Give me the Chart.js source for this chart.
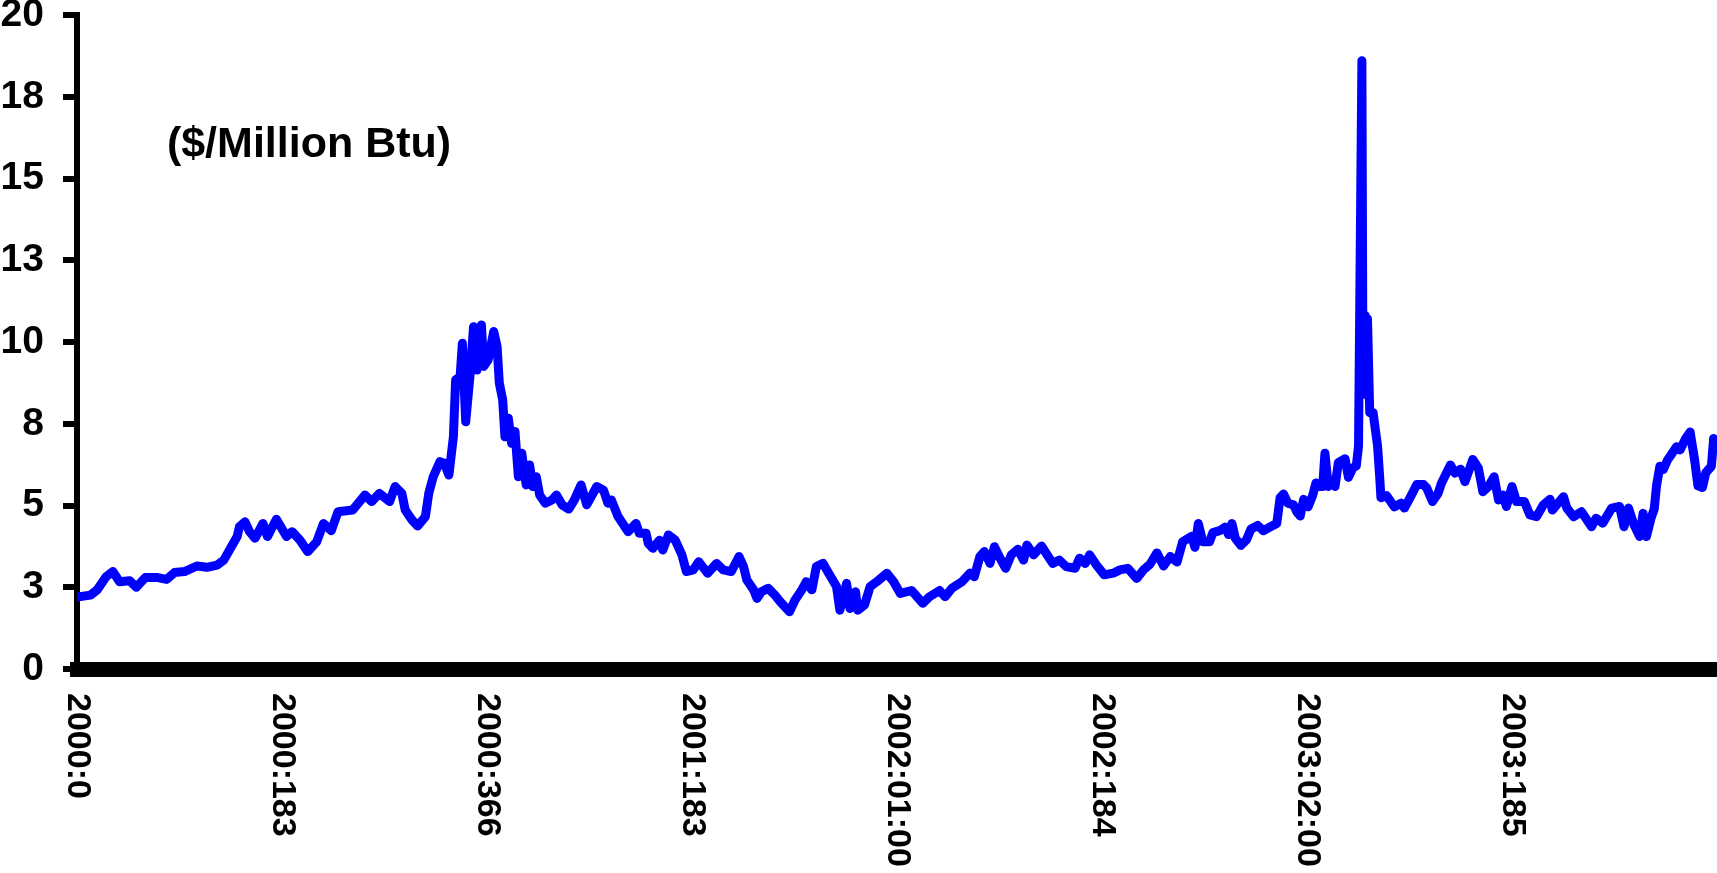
<!DOCTYPE html>
<html>
<head>
<meta charset="utf-8">
<script src="https://cdn.jsdelivr.net/npm/chart.js@4/dist/chart.umd.min.js"></script>
<style>
    html, body { margin: 0; padding: 0; background: #fff; }
    #wrap { width: 1717px; height: 873px; }
</style>
</head>
<body>
<div id="wrap"><canvas id="precioChart" width="1717" height="873"></canvas></div>
<script>
// Día (índice desde 2000:0) y precio diario ($/Million Btu)
const days = [
    0, 12, 18, 26, 32, 38, 47, 53, 61, 71, 80, 87, 96, 107, 116, 125, 131, 137, 143, 145,
    150, 154, 159, 166, 170, 178, 187, 192, 199, 206, 214, 220, 227, 233, 246, 257, 263, 270, 279, 284,
    290, 293, 299, 304, 311, 314, 318, 324, 328, 332, 336, 338, 342, 344, 347, 351, 354, 357, 361, 363,
    367, 372, 375, 377, 380, 382, 385, 388, 391, 394, 397, 401, 404, 407, 410, 413, 418, 424, 428, 433,
    439, 444, 450, 455, 464, 470, 474, 477, 483, 492, 499, 502, 508, 510, 514, 520, 523, 528, 534, 540,
    544, 550, 555, 563, 571, 577, 584, 591, 595, 598, 604, 607, 611, 617, 623, 629, 636, 641, 647, 651,
    656, 660, 666, 671, 678, 681, 687, 690, 695, 697, 703, 708, 714, 723, 729, 735, 745, 755, 761, 770,
    775, 781, 790, 797, 801, 806, 810, 815, 819, 824, 829, 834, 840, 845, 848, 854, 861, 867, 871, 877,
    883, 891, 895, 900, 904, 910, 917, 925, 931, 938, 946, 952, 958, 964, 970, 976, 982, 987, 995, 998,
    1001, 1005, 1011, 1014, 1020, 1025, 1028, 1031, 1034, 1039, 1044, 1048, 1054, 1059, 1065, 1071, 1074, 1077, 1081, 1086,
    1089, 1092, 1095, 1099, 1103, 1106, 1109, 1112, 1114, 1117, 1120, 1123, 1126, 1132, 1135, 1139, 1142, 1144, 1147, 1148,
    1150, 1151, 1152, 1154, 1157, 1161, 1163, 1164, 1169, 1176, 1182, 1185, 1190, 1196, 1202, 1205, 1210, 1215, 1218, 1226,
    1230, 1235, 1239, 1246, 1251, 1255, 1260, 1265, 1269, 1273, 1276, 1281, 1285, 1292, 1297, 1303, 1309, 1315, 1317, 1327,
    1330, 1336, 1343, 1352, 1356, 1362, 1370, 1377, 1381, 1385, 1390, 1395, 1398, 1401, 1405, 1408, 1410, 1413, 1416, 1420,
    1424, 1428, 1431, 1436, 1440, 1444, 1447, 1451, 1454, 1459, 1461
];
const prices = [
    2.20, 2.26, 2.42, 2.82, 2.98, 2.67, 2.70, 2.50, 2.80, 2.80, 2.74, 2.95, 2.98, 3.15, 3.11, 3.18, 3.33, 3.69, 4.05, 4.35,
    4.50, 4.20, 4.00, 4.45, 4.05, 4.58, 4.05, 4.20, 3.94, 3.59, 3.89, 4.45, 4.23, 4.81, 4.86, 5.32, 5.12, 5.37, 5.12, 5.58,
    5.37, 4.86, 4.56, 4.37, 4.66, 5.37, 5.88, 6.34, 6.29, 5.93, 7.10, 8.84, 8.94, 9.96, 7.56, 9.04, 10.47, 9.14, 10.52, 9.25,
    9.45, 10.32, 9.86, 8.74, 8.23, 7.10, 7.67, 6.90, 7.26, 5.88, 6.60, 5.63, 6.24, 5.58, 5.88, 5.32, 5.07, 5.17, 5.32, 5.02,
    4.89, 5.17, 5.63, 5.02, 5.58, 5.47, 5.07, 5.17, 4.66, 4.20, 4.45, 4.15, 4.15, 3.84, 3.69, 3.94, 3.64, 4.10, 3.94, 3.49,
    2.98, 3.03, 3.28, 2.93, 3.23, 3.03, 2.98, 3.44, 3.13, 2.72, 2.42, 2.16, 2.36, 2.47, 2.26, 2.01, 1.75, 2.11, 2.42, 2.67,
    2.42, 3.13, 3.23, 2.93, 2.52, 1.80, 2.62, 1.85, 2.36, 1.80, 1.96, 2.52, 2.67, 2.93, 2.67, 2.31, 2.40, 2.01, 2.21, 2.40,
    2.21, 2.47, 2.67, 2.93, 2.82, 3.44, 3.59, 3.23, 3.74, 3.39, 3.08, 3.49, 3.66, 3.33, 3.79, 3.49, 3.76, 3.44, 3.23, 3.33,
    3.13, 3.08, 3.39, 3.23, 3.49, 3.18, 2.88, 2.93, 3.03, 3.08, 2.77, 3.03, 3.21, 3.55, 3.15, 3.44, 3.27, 3.89, 4.06, 3.72,
    4.45, 3.89, 3.89, 4.17, 4.23, 4.34, 4.11, 4.45, 4.00, 3.78, 3.95, 4.28, 4.39, 4.23, 4.34, 4.45, 5.24, 5.35, 5.07, 5.02,
    4.80, 4.68, 5.19, 4.96, 5.30, 5.69, 5.58, 5.58, 6.60, 5.58, 5.69, 5.58, 6.31, 6.43, 5.86, 6.15, 6.21, 6.82, 18.60, 8.40,
    10.80, 8.40, 10.70, 7.84, 7.84, 6.82, 5.81, 5.24, 5.30, 4.96, 5.07, 4.92, 5.24, 5.64, 5.64, 5.53, 5.12, 5.37, 5.68, 6.24,
    5.99, 6.11, 5.73, 6.41, 6.14, 5.42, 5.58, 5.88, 5.17, 5.32, 4.97, 5.58, 5.12, 5.12, 4.71, 4.66, 5.02, 5.19, 4.86, 5.27,
    4.92, 4.66, 4.81, 4.35, 4.61, 4.46, 4.92, 4.97, 4.35, 4.92, 4.40, 4.05, 4.76, 4.05, 4.60, 4.90, 5.60, 6.20, 6.10, 6.40,
    6.60, 6.80, 6.70, 7.05, 7.25, 6.40, 5.60, 5.55, 6.00, 6.20, 7.05
];

// Etiquetas del eje X
const tickDays = [0, 183, 366, 549, 732, 915, 1098, 1281];
const tickLabels = ['2000:0', '2000:183', '2000:366', '2001:183', '2002:01:00', '2002:184', '2003:02:00', '2003:185'];
const unitLabel = '($/Million Btu)';

const FONT = '"Liberation Sans", Arial, sans-serif';

// Dibuja las etiquetas del eje X giradas (de arriba a abajo) y la unidad
const etiquetasPlugin = {
    id: 'etiquetas',
    afterDraw(chart) {
        const ctx = chart.ctx;
        const xs = chart.scales.x;
        ctx.save();
        ctx.fillStyle = '#000';
        ctx.font = 'bold 34px ' + FONT;
        ctx.textAlign = 'left';
        ctx.textBaseline = 'middle';
        tickDays.forEach((d, i) => {
            const px = xs.getPixelForValue(d);
            ctx.save();
            ctx.translate(px, chart.chartArea.bottom + 24);
            ctx.rotate(Math.PI / 2);
            ctx.fillText(tickLabels[i], 0, 0);
            ctx.restore();
        });
        ctx.font = 'bold 43px ' + FONT;
        ctx.textAlign = 'center';
        ctx.fillText(unitLabel, 309, 145);
        ctx.restore();
    }
};

const ctx = document.getElementById('precioChart').getContext('2d');
new Chart(ctx, {
    type: 'line',
    data: {
        datasets: [{
            label: 'Precio',
            data: days.map((d, i) => ({ x: d, y: prices[i] })),
            borderColor: '#0000FF',
            borderWidth: 9,
            pointRadius: 0,
            tension: 0,
            borderJoinStyle: 'round',
            borderCapStyle: 'round',
            fill: false
        }]
    },
    options: {
        responsive: false,
        animation: false,
        layout: { autoPadding: false, padding: { top: 15, right: 0, left: 0, bottom: 0 } },
        plugins: {
            legend: { display: false },
            tooltip: { enabled: false }
        },
        scales: {
            x: {
                type: 'linear',
                min: 0,
                max: 1464,
                ticks: { display: false },
                grid: { display: true, drawOnChartArea: false, drawTicks: false },
                border: { display: true, color: '#000', width: 15 },
                afterFit: s => { s.height = 204; s.paddingLeft = 0; s.paddingRight = 0; }
            },
            y: {
                min: 0,
                max: 20,
                ticks: {
                    stepSize: 2.5,
                    color: '#000',
                    padding: 19,
                    font: { family: FONT, weight: 'bold', size: 39 },
                    callback: v => Math.round(v)
                },
                grid: { drawOnChartArea: false, drawTicks: true, tickLength: 14, lineWidth: 6, color: '#000' },
                border: { display: true, color: '#000', width: 6 },
                afterFit: s => { s.width = 77; s.paddingTop = 0; s.paddingBottom = 0; }
            }
        }
    },
    plugins: [etiquetasPlugin]
});
</script>
</body>
</html>
